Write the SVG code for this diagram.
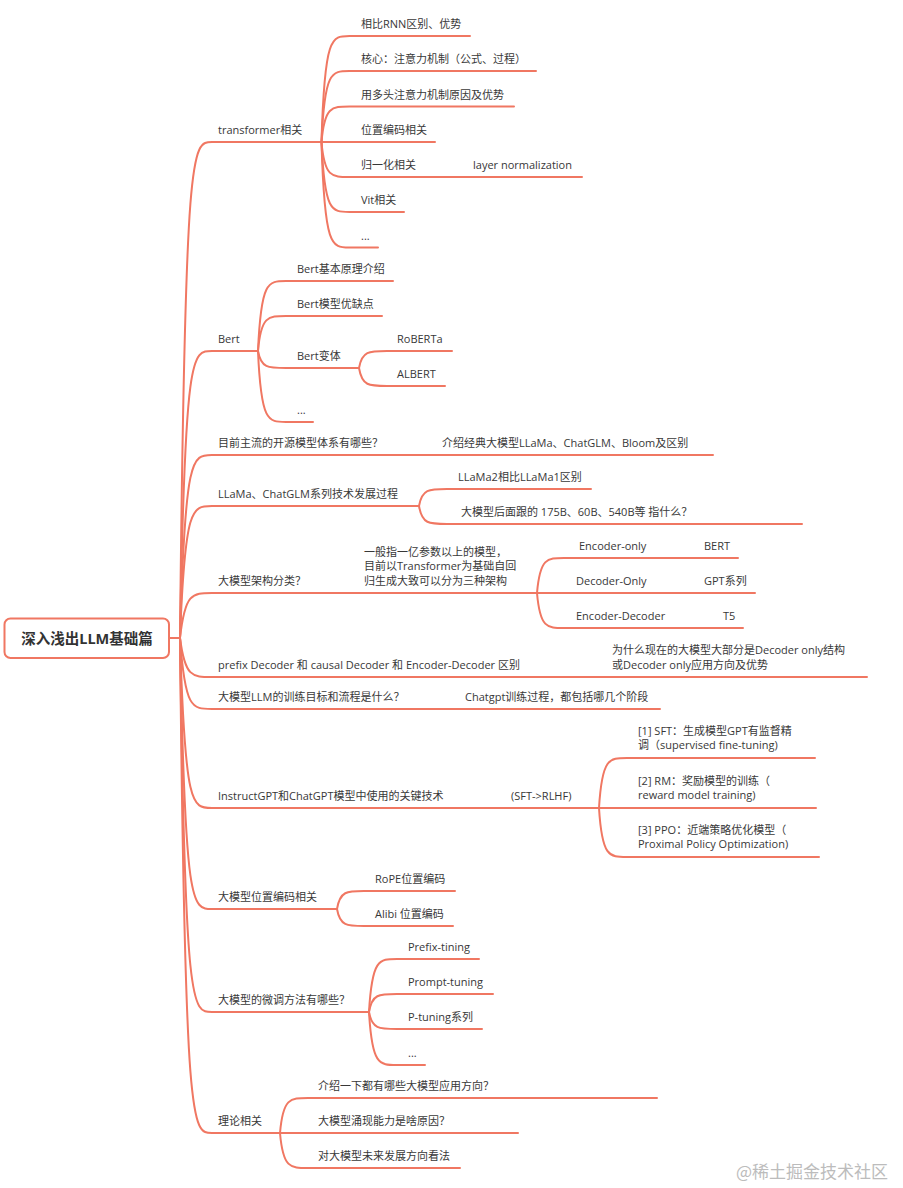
<svg xmlns="http://www.w3.org/2000/svg" width="903" height="1188" viewBox="0 0 903 1188">
<style>
.c{fill:none;stroke:#f07762;stroke-width:2;stroke-linecap:round}
.t{font-family:"Open Sans","Noto Sans CJK SC",sans-serif;font-size:11px;fill:#383838}
.r{font-family:"Open Sans","Noto Sans CJK SC",sans-serif;font-size:14.5px;font-weight:bold;fill:#333}
.w{font-family:"Noto Sans CJK SC",sans-serif;font-size:17px;fill:#bcbcbc}
</style>
<rect width="903" height="1188" fill="#fff"/>
<g id="connectors">
<path class="c" d="M169 638H180"/>
<path class="c" d="M180 638C185 142 192 142 212 142H321.5"/>
<path class="c" d="M180 638C185 351 192 351 212 351H258"/>
<path class="c" d="M180 638C185 455 192 455 212 455H713"/>
<path class="c" d="M180 638C185 506 192 506 212 506H419"/>
<path class="c" d="M180 638C185 593 192 593 212 593H537"/>
<path class="c" d="M180 638C185 677 192 677 212 677H867"/>
<path class="c" d="M180 638C185 709 192 709 212 709H660"/>
<path class="c" d="M180 638C185 808 192 808 212 808H599"/>
<path class="c" d="M180 638C185 909 192 909 212 909H337"/>
<path class="c" d="M180 638C185 1012 192 1012 212 1012H369"/>
<path class="c" d="M180 638C185 1133 192 1133 212 1133H280"/>
<path class="c" d="M321.5 142C324.5 36 331.5 36 349.5 36H470"/>
<path class="c" d="M321.5 142C324.5 71 331.5 71 349.5 71H536"/>
<path class="c" d="M321.5 142C324.5 106.5 331.5 106.5 349.5 106.5H514"/>
<path class="c" d="M321.5 142H435"/>
<path class="c" d="M321.5 142C324.5 177 331.5 177 349.5 177H582"/>
<path class="c" d="M321.5 142C324.5 212 331.5 212 349.5 212H404"/>
<path class="c" d="M321.5 142C324.5 247.5 331.5 247.5 349.5 247.5H378"/>
<path class="c" d="M258 351C261 281 268 281 286 281H393"/>
<path class="c" d="M258 351C261 316 268 316 286 316H382"/>
<path class="c" d="M258 351C261 368 268 368 286 368H359"/>
<path class="c" d="M258 351C261 422 268 422 286 422H313"/>
<path class="c" d="M359 368C362 351 369 351 387 351H452"/>
<path class="c" d="M359 368C362 386 369 386 387 386H445"/>
<path class="c" d="M419 506C422 489 429 489 447 489H591"/>
<path class="c" d="M419 506C422 524 429 524 447 524H802"/>
<path class="c" d="M537 593C540 558 547 558 564 558H738"/>
<path class="c" d="M537 593H755"/>
<path class="c" d="M537 593C540 628 547 628 564 628H743"/>
<path class="c" d="M599 808C602 758 609 758 627 758H815"/>
<path class="c" d="M599 808H816"/>
<path class="c" d="M599 808C602 857 609 857 627 857H819"/>
<path class="c" d="M337 909C340 891 347 891 364 891H455"/>
<path class="c" d="M337 909C340 926 347 926 364 926H453"/>
<path class="c" d="M369 1012C372 959 379 959 397 959H479"/>
<path class="c" d="M369 1012C372 994 379 994 397 994H493"/>
<path class="c" d="M369 1012C372 1029 379 1029 397 1029H482"/>
<path class="c" d="M369 1012C372 1065 379 1065 397 1065H425"/>
<path class="c" d="M280 1133C283 1098 290 1098 308 1098H657"/>
<path class="c" d="M280 1133H518"/>
<path class="c" d="M280 1133C283 1168 290 1168 308 1168H460"/>
</g>
<g id="root">
<rect x="4.5" y="618.5" width="164.5" height="39.5" rx="6" fill="#fff" stroke="#f07762" stroke-width="2"/>
<text class="r" x="87" y="643.5" text-anchor="middle">深入浅出LLM基础篇</text>
</g>
<g id="n-transformer"><text class="t" x="218" y="134">transformer相关</text></g>
<g id="n-t1"><text class="t" x="361" y="28">相比RNN区别、优势</text></g>
<g id="n-t2"><text class="t" x="361" y="63">核心：注意力机制（公式、过程）</text></g>
<g id="n-t3"><text class="t" x="361" y="98.5">用多头注意力机制原因及优势</text></g>
<g id="n-t4"><text class="t" x="361" y="134">位置编码相关</text></g>
<g id="n-t5"><text class="t" x="361" y="169">归一化相关</text></g>
<g id="n-t5a"><text class="t" x="473" y="169">layer normalization</text></g>
<g id="n-t6"><text class="t" x="361" y="204">Vit相关</text></g>
<g id="n-t7"><text class="t" x="361" y="239.5">...</text></g>
<g id="n-bert"><text class="t" x="218" y="343">Bert</text></g>
<g id="n-b1"><text class="t" x="297" y="273">Bert基本原理介绍</text></g>
<g id="n-b2"><text class="t" x="297" y="308">Bert模型优缺点</text></g>
<g id="n-b3"><text class="t" x="297" y="360">Bert变体</text></g>
<g id="n-b3a"><text class="t" x="397" y="343">RoBERTa</text></g>
<g id="n-b3b"><text class="t" x="397" y="378">ALBERT</text></g>
<g id="n-b4"><text class="t" x="297" y="414">...</text></g>
<g id="n-open"><text class="t" x="218" y="447">目前主流的开源模型体系有哪些？</text></g>
<g id="n-open1"><text class="t" x="442" y="447">介绍经典大模型LLaMa、ChatGLM、Bloom及区别</text></g>
<g id="n-llama"><text class="t" x="218" y="498">LLaMa、ChatGLM系列技术发展过程</text></g>
<g id="n-l1"><text class="t" x="458" y="481">LLaMa2相比LLaMa1区别</text></g>
<g id="n-l2"><text class="t" x="461" y="516">大模型后面跟的 175B、60B、540B等 指什么？</text></g>
<g id="n-arch"><text class="t" x="218" y="585">大模型架构分类？</text></g>
<g id="n-arch-note"><text class="t" x="364" y="555.5">一般指一亿参数以上的模型，</text><text class="t" x="364" y="570">目前以Transformer为基础自回</text><text class="t" x="364" y="584.5">归生成大致可以分为三种架构</text></g>
<g id="n-a1"><text class="t" x="579" y="550">Encoder-only</text></g>
<g id="n-a1b"><text class="t" x="704" y="550">BERT</text></g>
<g id="n-a2"><text class="t" x="576" y="585">Decoder-Only</text></g>
<g id="n-a2b"><text class="t" x="704" y="585">GPT系列</text></g>
<g id="n-a3"><text class="t" x="576" y="620">Encoder-Decoder</text></g>
<g id="n-a3b"><text class="t" x="723" y="620">T5</text></g>
<g id="n-prefix"><text class="t" x="218" y="669">prefix Decoder 和 causal Decoder 和 Encoder-Decoder 区别</text></g>
<g id="n-prefix1"><text class="t" x="612" y="654">为什么现在的大模型大部分是Decoder only结构</text><text class="t" x="612" y="668.5">或Decoder only应用方向及优势</text></g>
<g id="n-train"><text class="t" x="218" y="701">大模型LLM的训练目标和流程是什么？</text></g>
<g id="n-train1"><text class="t" x="465" y="701">Chatgpt训练过程，都包括哪几个阶段</text></g>
<g id="n-instruct"><text class="t" x="218" y="800">InstructGPT和ChatGPT模型中使用的关键技术</text></g>
<g id="n-rlhf"><text class="t" x="511" y="800">(SFT-&gt;RLHF)</text></g>
<g id="n-i1"><text class="t" x="638" y="734.5">[1] SFT：生成模型GPT有监督精</text><text class="t" x="638" y="749">调（supervised fine-tuning)</text></g>
<g id="n-i2"><text class="t" x="638" y="784.5">[2] RM：奖励模型的训练（</text><text class="t" x="638" y="799">reward model training)</text></g>
<g id="n-i3"><text class="t" x="638" y="833.5">[3] PPO：近端策略优化模型（</text><text class="t" x="638" y="848">Proximal Policy Optimization)</text></g>
<g id="n-pos"><text class="t" x="218" y="901">大模型位置编码相关</text></g>
<g id="n-p1"><text class="t" x="375" y="883">RoPE位置编码</text></g>
<g id="n-p2"><text class="t" x="375" y="918">Alibi 位置编码</text></g>
<g id="n-ft"><text class="t" x="218" y="1004">大模型的微调方法有哪些？</text></g>
<g id="n-f1"><text class="t" x="408" y="951">Prefix-tining</text></g>
<g id="n-f2"><text class="t" x="408" y="986">Prompt-tuning</text></g>
<g id="n-f3"><text class="t" x="408" y="1021">P-tuning系列</text></g>
<g id="n-f4"><text class="t" x="408" y="1057">...</text></g>
<g id="n-theory"><text class="t" x="218" y="1125">理论相关</text></g>
<g id="n-th1"><text class="t" x="318" y="1090">介绍一下都有哪些大模型应用方向？</text></g>
<g id="n-th2"><text class="t" x="318" y="1125">大模型涌现能力是啥原因？</text></g>
<g id="n-th3"><text class="t" x="318" y="1160">对大模型未来发展方向看法</text></g>
<text class="w" x="736" y="1178">@稀土掘金技术社区</text>
</svg>
